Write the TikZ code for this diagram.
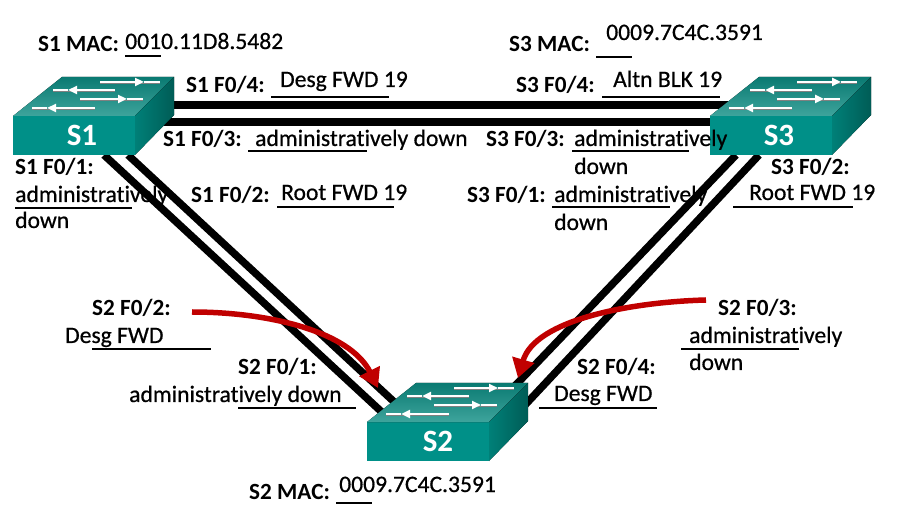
\documentclass[tikz,border=0pt]{standalone}
\usepackage{fontspec}
\setmainfont[Ligatures=CommonOff]{Carlito}
\newfontfamily\valuefont[Ligatures=CommonOff,FakeBold=0.6]{Carlito}
\usetikzlibrary{arrows.meta,backgrounds}

\definecolor{swfront}{RGB}{0,144,136}
\definecolor{swtopback}{RGB}{10,122,114}
\definecolor{swtopfront}{RGB}{62,164,156}
\definecolor{swsidea}{RGB}{0,128,120}
\definecolor{swsideb}{RGB}{0,92,86}
\definecolor{redarrow}{RGB}{192,0,0}

\tikzset{
  switchface/.style={fill=swfront,minimum width=122pt,minimum height=39pt,inner sep=0pt,outer sep=0pt,anchor=north west},
  switchname/.style={text=white,font=\fontsize{31}{31}\selectfont\bfseries},
  link/.style={line width=7.5pt},
  redlink/.style={line width=5.5pt,color=redarrow,-{Triangle[length=19pt,width=22pt]}},
  porttag/.style={anchor=base west,inner sep=0pt,font=\fontsize{23.2}{25}\selectfont\bfseries},
  portval/.style={anchor=base west,inner sep=0pt,font=\fontsize{23.6}{25}\selectfont\valuefont},
  underbar/.style={line width=2pt},
  flowbar/.style={line width=2.8pt,white}
}

% one switch: name, top left corner of the front face
\newcommand{\switchbox}[2]{
  \begin{scope}[shift={#2}]
    \fill[top color=swtopback,bottom color=swtopfront] (0,0) -- (49,-39) -- (161,-39) -- (122,0) -- cycle;
    \fill[left color=swsidea,right color=swsideb] (122,0) -- (161,-39) -- (161,-1) -- (122,39) -- cycle;
    \draw[gray,line width=1.4pt] (87,-32.5) -- (147,-32.5);
    \draw[gray,line width=1.4pt] (102,-24.5) -- (40,-24.5);
    \draw[gray,line width=1.4pt] (67,-15.5) -- (130,-15.5);
    \draw[gray,line width=1.4pt] (82,-6.5) -- (19,-6.5);
    \draw[flowbar,-{Triangle[length=9pt,width=8pt]}] (87,-34) -- (131,-34);
    \draw[flowbar] (131,-34) -- (147,-34);
    \draw[flowbar,-{Triangle[length=9pt,width=8pt]}] (102,-26) -- (55,-26);
    \draw[flowbar] (55,-26) -- (40,-26);
    \draw[flowbar,-{Triangle[length=9pt,width=8pt]}] (67,-17) -- (114,-17);
    \draw[flowbar] (114,-17) -- (130,-17);
    \draw[flowbar,-{Triangle[length=9pt,width=8pt]}] (82,-8) -- (34,-8);
    \draw[flowbar] (34,-8) -- (19,-8);
  \end{scope}
}

\begin{document}
\begin{tikzpicture}[x=1pt,y=-1pt]
  \useasboundingbox (0,0) rectangle (921,526);

  % switches
  \node[switchface,label={[switchname,xshift=8pt]center:S1}] (S1) at (13,116) {};
  \node[switchface,label={[switchname,xshift=8pt]center:S3}] (S3) at (710,116) {};
  \node[switchface,label={[switchname,xshift=10pt]center:S2}] (S2) at (367,422) {};
  \switchbox{S1}{(13,116)}
  \switchbox{S3}{(710,116)}
  \switchbox{S2}{(367,422)}

  % links
  \begin{scope}[on background layer]
    \draw[link] ([yshift=11pt]S1.north east) -- ([xshift=30pt,yshift=11pt]S3.north west);
    \draw[link] ([yshift=-6pt]S1.north east) -- ([yshift=-6pt]S3.north west);
    \draw[link] ([xshift=91pt]S1.south west) -- ([xshift=18pt,yshift=7pt]S2.north west);
    \draw[link] ([xshift=115pt]S1.south west) -- ([xshift=38pt,yshift=10pt]S2.north west);
    \draw[link] ([xshift=26pt]S3.south west) -- ([xshift=21pt,yshift=31pt]S2.north east);
    \draw[link] ([xshift=49pt]S3.south west) -- ([xshift=36pt,yshift=17pt]S2.north east);
  \end{scope}

  % red arrows
  \coordinate (s2f02start) at (192,312);
  \coordinate (s2f02end) at (378,388);
  \coordinate (s2f03start) at (706,300);
  \coordinate (s2f03end) at (518,378);
  \draw[redlink] (s2f02start) .. controls (270,312) and (350,332) .. (s2f02end);
  \draw[redlink] (s2f03start) .. controls (630,302) and (535,320) .. (s2f03end);

  % underlines
  \draw[underbar] (125,56) -- (161,56);
  \draw[underbar] (271,97) -- (389,97);
  \draw[underbar] (248,151) -- (367,151);
  \draw[underbar] (277,207) -- (394,207);
  \draw[underbar] (15,208) -- (132,208);
  \draw[underbar] (596,57) -- (632,57);
  \draw[underbar] (602,97) -- (720,97);
  \draw[underbar] (572,151) -- (689,151);
  \draw[underbar] (552,207) -- (670,207);
  \draw[underbar] (733,207) -- (853,207);
  \draw[underbar] (92,349) -- (211,349);
  \draw[underbar] (238,408) -- (356,408);
  \draw[underbar] (336,503) -- (372,503);
  \draw[underbar] (539,408) -- (657,408);
  \draw[underbar] (681,349) -- (799,349);

  % S1 texts
  \node[porttag] (s1mac) at (38,52) {S1 MAC:};
  \node[portval] (s1macval) at (125,49) {0010.11D8.5482};
  \node[porttag] (s1f04) at (186,93) {S1 F0/4:};
  \node[portval] (s1f04val) at (280,87) {Desg FWD 19};
  \node[porttag] (s1f03) at (163,147) {S1 F0/3:};
  \node[portval] (s1f03val) at (255,146) {administratively down};
  \node[porttag] (s1f02) at (191,203) {S1 F0/2:};
  \node[portval] (s1f02val) at (281,200) {Root FWD 19};
  \node[porttag] (s1f01) at (15,175) {S1 F0/1:};
  \node[portval] (s1f01val) at (15,202) {administratively};
  \node[portval] (s1f01down) at (15,228) {down};

  % S3 texts
  \node[porttag] (s3mac) at (509,52) {S3 MAC:};
  \node[portval] (s3macval) at (606,40) {0009.7C4C.3591};
  \node[porttag] (s3f04) at (516,93) {S3 F0/4:};
  \node[portval] (s3f04val) at (613,87) {Altn BLK 19};
  \node[porttag] (s3f03) at (486,147) {S3 F0/3:};
  \node[portval] (s3f03val) at (574,146) {administratively};
  \node[portval] (s3f03down) at (574,174) {down};
  \node[porttag] (s3f01) at (467,203) {S3 F0/1:};
  \node[portval] (s3f01val) at (554,202) {administratively};
  \node[portval] (s3f01down) at (554,230) {down};
  \node[porttag] (s3f02) at (771,175) {S3 F0/2:};
  \node[portval] (s3f02val) at (749,200) {Root FWD 19};

  % S2 texts
  \node[porttag] (s2f02) at (92,316) {S2 F0/2:};
  \node[portval] (s2f02val) at (65,343) {Desg FWD};
  \node[porttag] (s2f01) at (238,375) {S2 F0/1:};
  \node[portval] (s2f01val) at (129,402) {administratively down};
  \node[porttag] (s2mac) at (249,499) {S2 MAC:};
  \node[portval] (s2macval) at (339,492) {0009.7C4C.3591};
  \node[porttag] (s2f04) at (577,375) {S2 F0/4:};
  \node[portval] (s2f04val) at (554,401) {Desg FWD};
  \node[porttag] (s2f03) at (718,316) {S2 F0/3:};
  \node[portval] (s2f03val) at (689,343) {administratively};
  \node[portval] (s2f03down) at (689,370) {down};
\end{tikzpicture}
\end{document}
